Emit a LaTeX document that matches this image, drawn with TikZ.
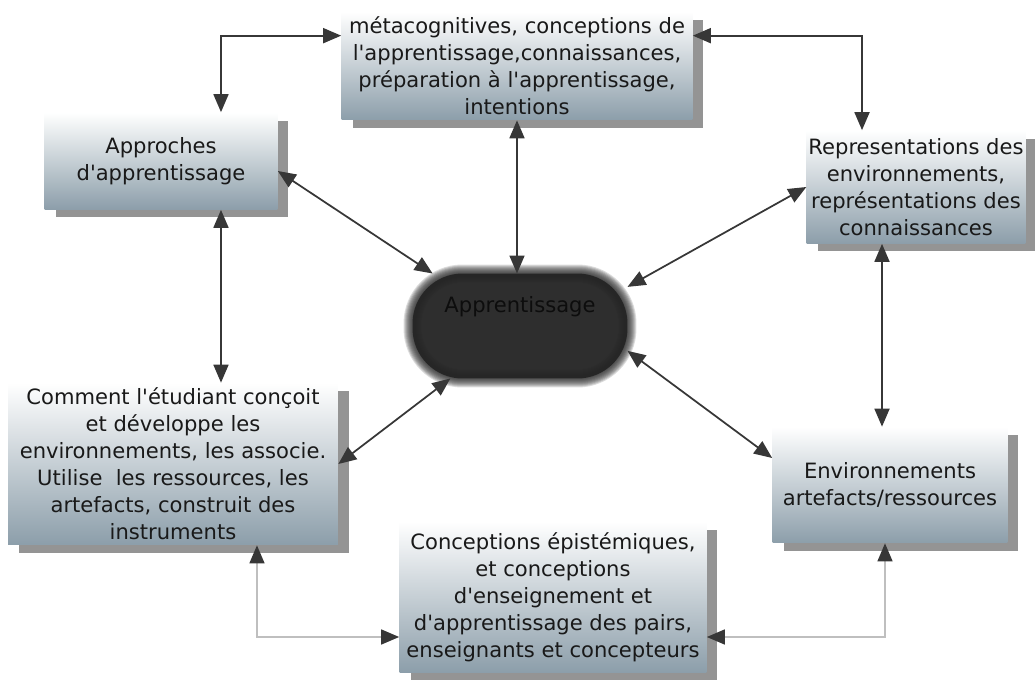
\documentclass[tikz,border=0pt]{standalone}
\usepackage{fontspec}
\setmainfont{DejaVu Sans}
\usetikzlibrary{arrows.meta,shadows}

\definecolor{boxgrey}{RGB}{140,158,170}
\definecolor{linegrey}{RGB}{55,55,55}
\newcommand{\ap}{\textquotesingle}

\tikzset{
  box/.style={top color=white, bottom color=boxgrey, align=center, inner sep=1pt,
    font=\fontsize{12}{15.4}\selectfont, text=black!90,
    drop shadow={shadow xshift=0.22cm, shadow yshift=-0.16cm, fill=black!60, opacity=0.7}},
  link/.style={{Triangle[length=0.36cm, width=0.3cm]}-{Triangle[length=0.36cm, width=0.3cm]},
    line width=1pt, draw=linegrey},
  softlink/.style={{Triangle[length=0.36cm, width=0.3cm, color=linegrey]}-{Triangle[length=0.36cm, width=0.3cm, color=linegrey]},
    line width=0.8pt, draw=gray!50}
}

\begin{document}
\begin{tikzpicture}[x=0.02cm, y=-0.02cm]
 \useasboundingbox (0,0) rectangle (1035,687);

 % boxes
 \node[box, minimum width=7.02cm, minimum height=2.16cm] (top) at (517,66)
   {métacognitives, conceptions de\\l\ap apprentissage,connaissances,\\préparation à l\ap apprentissage,\\intentions};
 \node[box, minimum width=4.66cm, minimum height=1.94cm] (appr) at (161,161)
   {Approches\\d\ap apprentissage};
 \node[box, minimum width=4.36cm, minimum height=2.26cm] (repr) at (916,187)
   {Representations des\\environnements,\\représentations des\\connaissances};
 \node[box, minimum width=6.6cm, minimum height=3.24cm] (comm) at (173,464)
   {Comment l\ap étudiant conçoit\\et développe les\\environnements, les associe.\\Utilise\ \ les ressources, les\\artefacts, construit des\\instruments};
 \node[box, minimum width=4.7cm, minimum height=2.32cm] (env) at (890,485)
   {Environnements\\artefacts/ressources};
 \node[box, minimum width=6.14cm, minimum height=3.02cm] (conc) at (553,597)
   {Conceptions épistémiques,\\et conceptions\\d\ap enseignement et\\d\ap apprentissage des pairs,\\enseignants et concepteurs};

 % central blob
 \node[fill=black!82, rounded corners=1cm, minimum width=4.3cm, minimum height=2.1cm, outer sep=0pt] (learn) at (520,326) {};
 \foreach \w in {2,4,6,8,10,12,14,16,18}
   \draw[black!85, opacity=0.16, line width=\w*0.02cm, rounded corners=1cm] (learn.north west) rectangle (learn.south east);
 \node[font=\fontsize{12}{14}\selectfont, text=black!95] (learntext) at ([yshift=0.38cm]learn.center) {Apprentissage};

 % connectors
 \draw[link] ([yshift=-0.48cm]top.north west) -| ([xshift=1.2cm]appr.north);
 \draw[link] ([yshift=-0.48cm]top.north east) -| ([xshift=-1.08cm]repr.north);
 \draw[link] (top.south) -- (top.south |- learn.north);
 \draw[link] ([yshift=-0.2cm]appr.east) -- (learn.149);
 \draw[link] (repr.west) -- (learn.20);
 \draw[link] (learn.217) -- (comm.east);
 \draw[link] (learn.-13) -- ([yshift=0.54cm]env.west);
 \draw[link] ([xshift=1.2cm]appr.south) -- ([xshift=1.2cm]appr.south |- comm.north);
 \draw[link] ([xshift=-0.68cm]repr.south) -- ([xshift=-0.68cm]repr.south |- env.north);
 \draw[softlink] ([xshift=1.68cm]comm.south) |- ([yshift=-0.8cm]conc.west);
 \draw[softlink] ([xshift=-0.1cm]env.south) |- ([yshift=-0.8cm]conc.east);
\end{tikzpicture}
\end{document}
